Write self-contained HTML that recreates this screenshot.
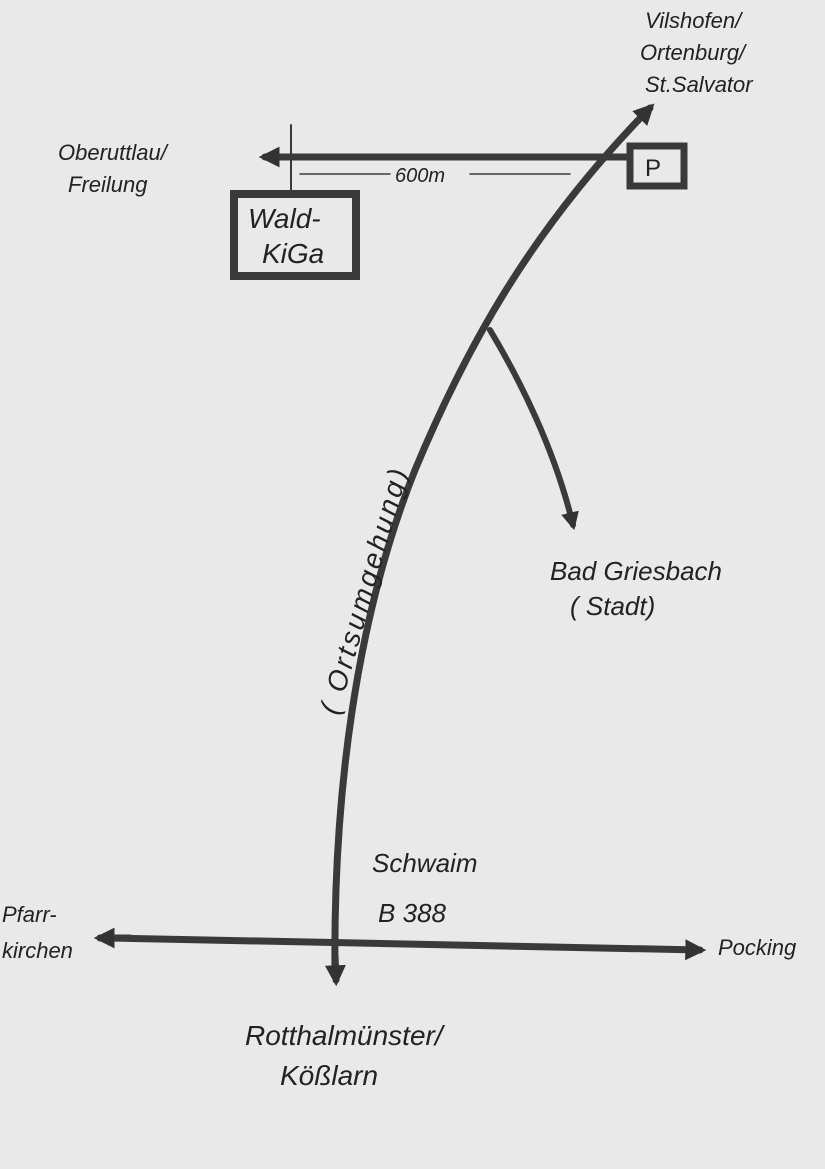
<!DOCTYPE html>
<html><head><meta charset="utf-8"><style>
html,body{margin:0;padding:0;background:#e9e9e9;}
svg{display:block}
text{font-family:"Liberation Sans",sans-serif;fill:#222;}
</style></head><body>
<svg width="825" height="1169" viewBox="0 0 825 1169" xmlns="http://www.w3.org/2000/svg">
<rect width="825" height="1169" fill="#e9e9e9"/>
<defs>
<marker id="a" viewBox="0 0 10 10" refX="7" refY="5" markerWidth="3" markerHeight="3" orient="auto"><path d="M0,0 L10,5 L0,10 z" fill="#333"/></marker>
</defs>
<g stroke="#3a3a3a" fill="none" stroke-linecap="round">
<path d="M335,975 C333,800 355,620 415,470 C465,350 530,230 650,108" stroke-width="7" marker-end="url(#a)"/>
<path d="M335,955 L336,980" stroke-width="7" marker-end="url(#a)"/>
<path d="M110,938 L700,950" stroke-width="7" marker-end="url(#a)"/>
<path d="M130,938 L100,938" stroke-width="7" marker-end="url(#a)"/>
<path d="M490,330 C520,380 555,450 573,525" stroke-width="6" marker-end="url(#a)"/>
<path d="M628,157 L265,157" stroke-width="7" marker-end="url(#a)"/>
<rect x="630" y="146" width="54" height="40" stroke-width="7"/>
<rect x="234" y="194" width="122" height="82" stroke-width="8"/>
<path d="M291,125 L291,190" stroke-width="2"/>
<path d="M300,174 L390,174 M470,174 L570,174" stroke-width="1.5"/>
</g>
<text x="645" y="176" font-size="24">P</text>
<text x="248" y="228" font-size="28" font-style="italic">Wald-</text>
<text x="262" y="263" font-size="28" font-style="italic">KiGa</text>
<text x="395" y="182" font-size="20" font-style="italic">600m</text>
<text x="645" y="28" font-size="22" font-style="italic">Vilshofen/</text>
<text x="640" y="60" font-size="22" font-style="italic">Ortenburg/</text>
<text x="645" y="92" font-size="22" font-style="italic">St.Salvator</text>
<text x="58" y="160" font-size="22" font-style="italic">Oberuttlau/</text>
<text x="68" y="192" font-size="22" font-style="italic">Freilung</text>
<text x="550" y="580" font-size="26" font-style="italic">Bad Griesbach</text>
<text x="570" y="615" font-size="26" font-style="italic">( Stadt)</text>
<text x="0" y="0" font-size="28" letter-spacing="3" font-style="italic" transform="translate(338,716) rotate(-74)">( Ortsumgehung)</text>
<text x="372" y="872" font-size="26" font-style="italic">Schwaim</text>
<text x="378" y="922" font-size="26" font-style="italic">B 388</text>
<text x="2" y="922" font-size="22" font-style="italic">Pfarr-</text>
<text x="2" y="958" font-size="22" font-style="italic">kirchen</text>
<text x="718" y="955" font-size="22" font-style="italic">Pocking</text>
<text x="245" y="1045" font-size="28" font-style="italic">Rotthalmünster/</text>
<text x="280" y="1085" font-size="28" font-style="italic">Kößlarn</text>
</svg>
</body></html>
